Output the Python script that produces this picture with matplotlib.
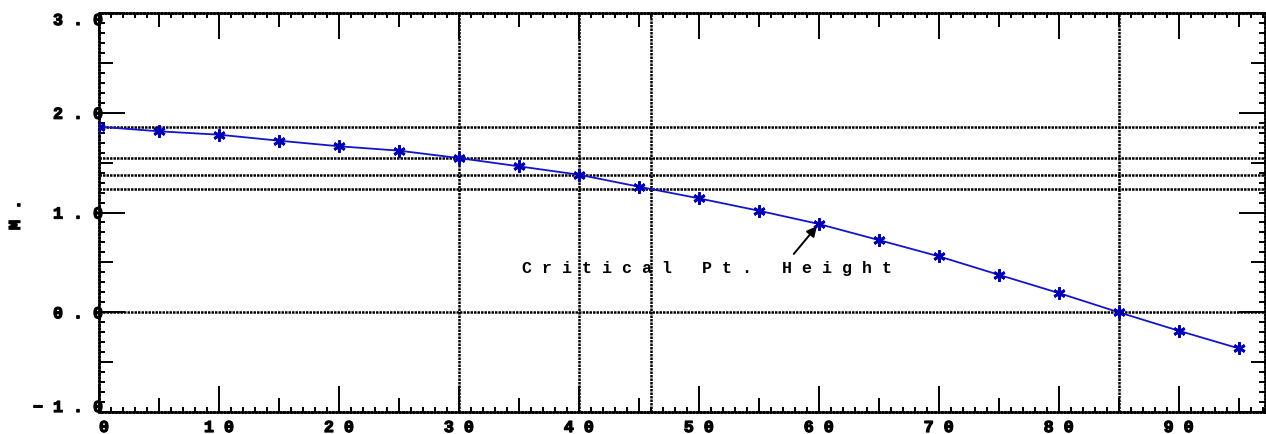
"""Height profile along the section with the critical point marked."""

import matplotlib.pyplot as plt
import matplotlib.lines as mlines
import matplotlib.patheffects as pe
from matplotlib.ticker import MultipleLocator, FixedLocator

# station along the section and the height at each station
stations = [0, 5, 10, 15, 20, 25, 30, 35, 40, 45,
            50, 55, 60, 65, 70, 75, 80, 85, 90, 95]
heights = [1.86, 1.814, 1.78, 1.72, 1.664, 1.62, 1.546, 1.463, 1.379, 1.259,
           1.142, 1.018, 0.885, 0.724, 0.561, 0.376, 0.193, 0.0, -0.185, -0.362]

# reference lines through the points of interest
ref_heights = [1.86, 1.546, 1.379, 1.24, 0.0]
ref_stations = [30, 40, 46, 85]

x_ticks = [0, 10, 20, 30, 40, 50, 60, 70, 80, 90]
y_ticks = [-1.0, 0.0, 1.0, 2.0, 3.0]
x_labels = ["0", "10", "20", "30", "40", "50", "60", "70", "80", "90"]
y_labels = ["-1.0", "0.0", "1.0", "2.0", "3.0"]

crit_index = 12
crit_label = "Critical Pt. Height"
y_title = "M."

X_MAX = 97.2
Y_MIN, Y_MAX = -1.0, 3.0

PX = 0.72  # points per pixel at 100 dpi
DOTTED = (0, (1.0, 0.4))
HEAVY = [pe.withStroke(linewidth=0.9, foreground="black")]


def spaced(text):
    """Wide letter spacing like the old plotter output."""
    return " ".join(text.replace("-", "\u2212"))


def draw_mid_ticks(ax, xs, ys):
    """Half-way ticks (every 5 on x, every 0.5 on y) on all four sides."""
    style = dict(linestyle="none", color="black", markersize=14 * PX,
                 markeredgewidth=1.4, clip_on=False)
    ax.plot(xs, [Y_MIN] * len(xs), marker=mlines.TICKUP, **style)
    ax.plot(xs, [Y_MAX] * len(xs), marker=mlines.TICKDOWN, **style)
    ax.plot([0] * len(ys), ys, marker=mlines.TICKRIGHT, **style)
    ax.plot([X_MAX] * len(ys), ys, marker=mlines.TICKLEFT, **style)


def plot_profile():
    plt.rcParams["font.family"] = ["Liberation Mono", "DejaVu Sans Mono"]
    plt.rcParams["font.weight"] = "bold"

    fig = plt.figure(figsize=(12.66, 4.35), dpi=100)
    ax = fig.add_axes([99 / 1266, 22 / 435, 1166 / 1266, 399 / 435])
    ax.set_xlim(0, X_MAX)
    ax.set_ylim(Y_MIN, Y_MAX)

    for h in ref_heights:
        ax.axhline(h, color="black", lw=1.8, linestyle=DOTTED, zorder=1)
    for s in ref_stations:
        ax.axvline(s, color="black", lw=1.8, linestyle=DOTTED, zorder=1)

    ax.plot(stations, heights, color="#1414c8", lw=1.3, zorder=3)
    ax.plot(stations, heights, linestyle="none", marker=(6, 2, 0),
            markersize=12 * PX, markeredgewidth=2.0, color="#0000b0", zorder=4)

    # arrow pointing at the critical point, label set below it
    cx, cy = stations[crit_index], heights[crit_index]
    ax.annotate("", xy=(cx, cy), xytext=(-25, -30),
                textcoords="offset pixels",
                arrowprops=dict(arrowstyle="-|>", color="black", lw=1.4,
                                mutation_scale=15, shrinkA=0, shrinkB=2))
    ax.text(35.25, 0.404, spaced(crit_label), fontsize=12,
            ha="left", va="baseline", zorder=5)

    for side in ax.spines.values():
        side.set_linestyle(DOTTED)
        side.set_linewidth(1.8)

    ax.xaxis.set_major_locator(FixedLocator(x_ticks))
    ax.yaxis.set_major_locator(FixedLocator(y_ticks))
    ax.xaxis.set_minor_locator(MultipleLocator(1))
    ax.yaxis.set_minor_locator(MultipleLocator(0.1))
    ax.set_xticklabels([spaced(t) for t in x_labels])
    ax.set_yticklabels([spaced(t) for t in y_labels])

    ax.tick_params(which="both", direction="in", top=True, right=True,
                   width=1.4, labelsize=12)
    ax.tick_params(which="major", length=26 * PX)
    ax.tick_params(axis="x", which="minor", length=5 * PX)
    ax.tick_params(axis="y", which="minor", length=6 * PX)
    ax.tick_params(axis="x", which="major", pad=8 * PX)
    ax.tick_params(axis="y", which="major", pad=-4 * PX)

    draw_mid_ticks(ax, list(range(5, 96, 10)), [-0.5, 0.5, 1.5, 2.5])

    xt = ax.get_xticklabels()
    xt[0].set_ha("left")
    yt = ax.get_yticklabels()
    yt[0].set_va("baseline")
    yt[-1].set_va("top")
    for lab in xt + yt:
        lab.set_path_effects(HEAVY)

    fig.text(15.5 / 1266, 1 - 216 / 435, spaced(y_title), rotation=90,
             fontsize=12, ha="center", va="center", path_effects=HEAVY)
    return fig


def main():
    fig = plot_profile()
    fig.savefig("out.png", dpi=100)
    plt.close(fig)


if __name__ == "__main__":
    main()
